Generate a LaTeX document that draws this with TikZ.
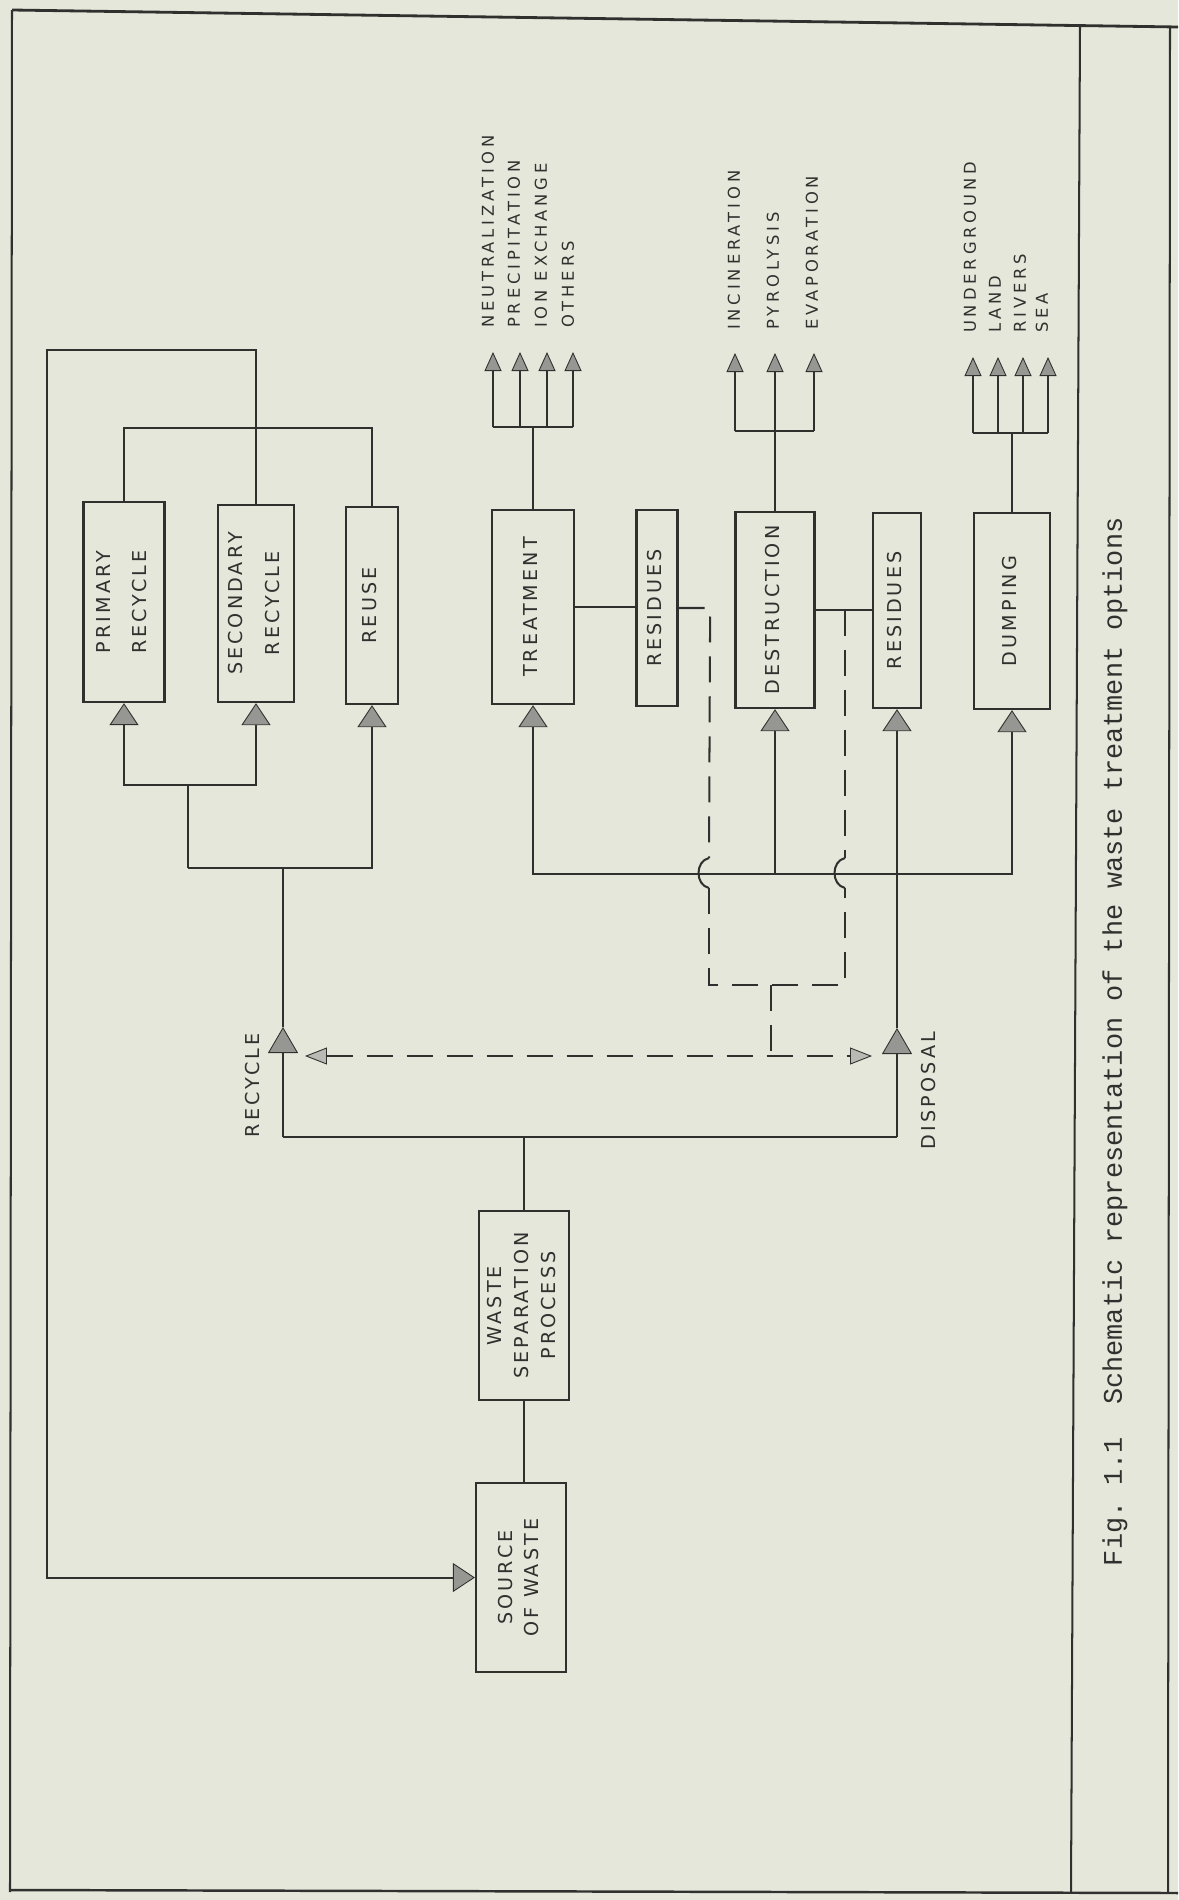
\documentclass[tikz,border=0pt]{standalone}
\usepackage{fontspec}
\usepackage{graphicx}
\usetikzlibrary{arrows.meta}
\newfontfamily\boxfont[LetterSpace=16]{DejaVu Sans}
\newfontfamily\labfont[LetterSpace=24]{DejaVu Sans}
\newfontfamily\capfont{Liberation Mono}
\definecolor{paper}{RGB}{229,231,219}
\definecolor{ink}{RGB}{48,48,46}
\definecolor{headfill}{RGB}{150,151,146}
\definecolor{openfill}{RGB}{185,186,180}
\newcommand\vtext[1]{\rotatebox{90}{\begin{tabular}{@{}c@{}}#1\end{tabular}}}
\tikzset{
  box/.style={draw=ink, line width=1.3pt, rectangle, inner sep=0pt, text=ink,
    font=\boxfont\fontsize{10.9}{13}\selectfont},
  lab/.style={rotate=90, anchor=west, inner sep=0pt, text=ink,
    font=\labfont\fontsize{9.3}{11}\selectfont},
  vlab/.style={rotate=90, anchor=west, inner sep=0pt, text=ink,
    font=\boxfont\fontsize{10.9}{13}\selectfont},
  barr/.style={-{Triangle[width=0.58cm,length=0.44cm,fill=headfill,line width=0.5pt]}},
  rarr/.style={-{Triangle[width=0.6cm,length=0.52cm,fill=headfill,line width=0.5pt]}},
  sarr/.style={-{Triangle[width=0.34cm,length=0.38cm,fill=headfill,line width=0.5pt]}},
  oarr/.style={{Triangle[width=0.34cm,length=0.44cm,fill=openfill,line width=0.5pt]}-{Triangle[width=0.34cm,length=0.44cm,fill=openfill,line width=0.5pt]}},
  dsh/.style={dash pattern=on 0.52cm off 0.28cm},
}
\begin{document}
\begin{tikzpicture}[x=0.02cm, y=-0.02cm, line width=1.15pt, draw=ink]
\fill[paper] (0,0) rectangle (1178,1900);
\useasboundingbox (0,0) rectangle (1178,1900);

% page frame
\draw[line width=1.6pt] (12,10) -- (1178,27);
\draw (12,10) -- (10,1892);
\draw[line width=1.4pt] (10,1890) -- (1178,1893);
\draw (1080,25) -- (1071,1892);
\draw (1170,27) -- (1168,1892);

% boxes
\node[box, minimum width=1.62cm, minimum height=4cm] (prim) at (124,602) {\vtext{PRIMARY\\[7.4pt]RECYCLE}};
\node[box, minimum width=1.52cm, minimum height=3.94cm] (sec) at (256,603.5) {\vtext{SECONDARY\\[8pt]RECYCLE}};
\node[box, minimum width=1.04cm, minimum height=3.94cm] (reuse) at (372,605.5) {\vtext{REUSE}};
\node[box, minimum width=1.64cm, minimum height=3.88cm] (treat) at (533,607) {\vtext{TREATMENT}};
\node[box, minimum width=0.82cm, minimum height=3.92cm] (res1) at (657,608) {\vtext{RESIDUES}};
\node[box, minimum width=1.58cm, minimum height=3.92cm] (dest) at (775,610) {\vtext{DESTRUCTION}};
\node[box, minimum width=0.96cm, minimum height=3.9cm] (res2) at (897,610.5) {\vtext{RESIDUES}};
\node[box, minimum width=1.52cm, minimum height=3.92cm] (dump) at (1012,611) {\vtext{DUMPING}};
\node[box, minimum width=1.8cm, minimum height=3.78cm] (sep) at (524,1305.5) {\vtext{WASTE\\[2.3pt]SEPARATION\\[2.3pt]PROCESS}};
\node[box, minimum width=1.8cm, minimum height=3.78cm] (src) at (521,1577.5) {\vtext{SOURCE\\[1.7pt]OF WASTE}};

% top labels
\node[lab] (t1) at (488,329) {NEUTRALIZATION};
\node[lab] (t2) at (514,329) {PRECIPITATION};
\node[lab] (t3) at (541,329) {ION EXCHANGE};
\node[lab] (t4) at (568,329) {OTHERS};
\node[lab] (d1) at (734,331) {INCINERATION};
\node[lab] (d2) at (773,331) {PYROLYSIS};
\node[lab] (d3) at (812,331) {EVAPORATION};
\node[lab] (u1) at (970,334) {UNDERGROUND};
\node[lab] (u2) at (995,334) {LAND};
\node[lab] (u3) at (1020,334) {RIVERS};
\node[lab] (u4) at (1042,334) {SEA};

% arrow tips under the labels
\coordinate (ta1) at (493,352); \coordinate (ta2) at (520,352);
\coordinate (ta3) at (547,352); \coordinate (ta4) at (573,352);
\coordinate (da1) at (735,353); \coordinate (da2) at (775,353);
\coordinate (da3) at (814,353);
\coordinate (ua1) at (973,357); \coordinate (ua2) at (998,357);
\coordinate (ua3) at (1023,357); \coordinate (ua4) at (1048,357);

% side labels
\node[vlab] (rlab) at (253,1138) {RECYCLE};
\node[vlab] (dlab) at (929,1150) {DISPOSAL};

% caption
\node[rotate=90, anchor=west, inner sep=0pt, text=ink,
  font=\capfont\fontsize{15.3}{18}\selectfont\frenchspacing] (cap) at (1115,1567)
  {Fig. 1.1\ \ Schematic representation of the waste treatment options};

% junction coordinates
\coordinate (tj) at (533,427);
\coordinate (dj) at (775,431);
\coordinate (uj) at (1012,433);
\coordinate (jl) at (283,1137);
\coordinate (jr) at (897,1137);
\coordinate (rtip) at (283,1027);
\coordinate (dtip) at (897,1028);
\coordinate (rb) at (283,868);
\coordinate (pj) at (188,785);
\coordinate (bus) at (775,874);

% recycle loop to source
\draw[barr] (sec.north) -- (256,350) -- (47,350) -- (47,1577.5) -- (src.west);
\draw (prim.north) -- (124,428) -- (372,428) -- (reuse.north);

% treatment outlets
\draw (treat.north) -- (tj);
\draw (ta1 |- tj) -- (ta4 |- tj);
\draw[sarr] (ta1 |- tj) -- (ta1);
\draw[sarr] (ta2 |- tj) -- (ta2);
\draw[sarr] (ta3 |- tj) -- (ta3);
\draw[sarr] (ta4 |- tj) -- (ta4);

% destruction outlets
\draw (dest.north) -- (dj);
\draw (da1 |- dj) -- (da3 |- dj);
\draw[sarr] (da1 |- dj) -- (da1);
\draw[sarr] (da2 |- dj) -- (da2);
\draw[sarr] (da3 |- dj) -- (da3);

% dumping outlets
\draw (dump.north) -- (uj);
\draw (ua1 |- uj) -- (ua4 |- uj);
\draw[sarr] (ua1 |- uj) -- (ua1);
\draw[sarr] (ua2 |- uj) -- (ua2);
\draw[sarr] (ua3 |- uj) -- (ua3);
\draw[sarr] (ua4 |- uj) -- (ua4);

% residues links
\draw (treat.east) -- (treat.east -| res1.west);
\draw (dest.east) -- (dest.east -| res2.west);

% recycle branch
\draw (rtip) -- (rb);
\draw (pj) -- (pj |- rb);
\draw[barr] (pj |- rb) -| (reuse.south);
\draw[barr] (pj) -| (prim.south);
\draw[barr] (pj) -| (sec.south);

% disposal branch
\draw[barr] (bus) -| (treat.south);
\draw[barr] (bus) -- (dest.south);
\draw[barr] (bus) -| (dump.south);
\draw[barr] (dtip) -- (res2.south);

% separation split
\draw (src.north -| sep.south) -- (sep.south);
\draw (sep.north) -- (sep.north |- jl);
\draw (jl) -- (jr);
\draw[rarr] (jl) -- (rtip);
\draw[rarr] (jr) -- (dtip);

% dashed residue returns
\draw[dsh] (res1.east) -- ++(31.5,0) -- (709,858);
\draw (709,858) .. controls (695,861) and (695,885) .. (709,888);
\draw[dsh] (845,610) -- (845,858);
\draw (845,858) .. controls (831,861) and (831,885) .. (845,888);
\draw[dsh] (709,888) -- (709,985) -- (845,985) -- (845,888);
\draw[dsh] (771,985) -- (771,1056);
\draw[dsh, oarr] (305,1056) -- (872,1056);
\end{tikzpicture}
\end{document}
